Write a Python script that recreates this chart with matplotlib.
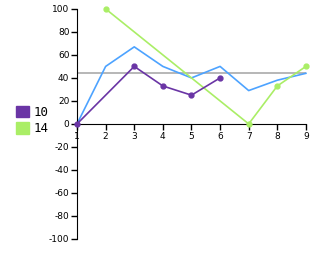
import matplotlib
matplotlib.use("Agg")
from matplotlib import pyplot as plt
from matplotlib.patches import Patch

# data
x_purple = [1, 3, 4, 5, 6]
y_purple = [0, 50, 33, 25, 40]
x_green = [2, 7, 8, 9]
y_green = [100, 0, 33, 50]
x_blue = [1, 2, 3, 4, 5, 6, 7, 8, 9]
y_blue = [0, 50, 67, 50, 40, 50, 29, 38, 44]
ref_level = 44
labels = ["10", "14"]
xticks = list(range(1, 10))
yticks = list(range(-100, 101, 20))

purple = "#6a35a5"
green = "#aaee66"
blue = "#4da3ff"
gray = "#aaaaaa"

fig = plt.figure(figsize=(3.17, 2.62), dpi=100)
ax = fig.add_axes([0.243, 0.088, 0.722, 0.878])

ax.axhline(ref_level, color=gray, lw=1.2, zorder=1)
ax.plot(x_blue, y_blue, color=blue, lw=1.2, clip_on=False, zorder=2)
ax.plot(x_green, y_green, color=green, lw=1.2, marker="o", ms=3.5, clip_on=False, zorder=3)
ax.plot(x_purple, y_purple, color=purple, lw=1.2, marker="o", ms=3.5, clip_on=False, zorder=4)

ax.set_xlim(1, 9)
ax.set_ylim(-100, 100)
ax.spines["top"].set_visible(False)
ax.spines["right"].set_visible(False)
ax.spines["left"].set_position(("data", 1))
ax.spines["bottom"].set_position(("data", 0))
ax.set_xticks(xticks)
ax.set_yticks(yticks)
ax.tick_params(labelsize=6.5, length=4, width=1, pad=1.5)
ax.set_yticklabels([str(v) for v in yticks])

handles = [Patch(color=purple), Patch(color=green)]
fig.legend(handles, labels, loc="upper left", bbox_to_anchor=(0.052, 0.595),
           frameon=False, handlelength=1.0, handleheight=1.0, handletextpad=0.4,
           labelspacing=0.25, borderaxespad=0, borderpad=0,
           prop={"family": "DejaVu Sans Mono", "size": 9})

fig.savefig("out.png", dpi=100)
